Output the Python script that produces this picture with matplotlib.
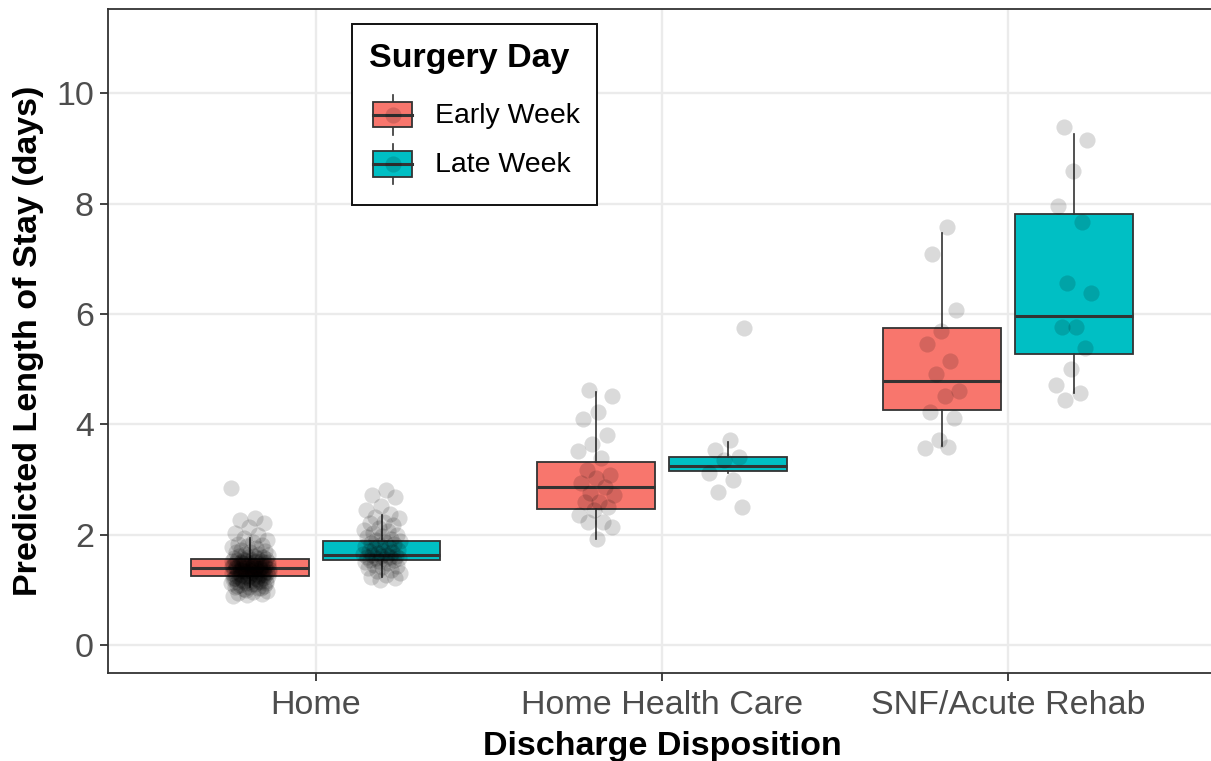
import numpy as np
import matplotlib
matplotlib.use("Agg")
import matplotlib.pyplot as plt
from matplotlib.patches import Rectangle
from matplotlib.lines import Line2D

plt.rcParams['font.family'] = ['Liberation Sans', 'DejaVu Sans']

# ---------------- data ----------------
categories = ['Home', 'Home Health Care', 'SNF/Acute Rehab']
groups = ['Early Week', 'Late Week']
colors = ['#F8766D', '#00BFC4']

# box statistics (per category)
early_med = [1.395, 2.87, 4.79]
early_q1 = [1.25, 2.46, 4.26]
early_q3 = [1.558, 3.32, 5.74]
early_lo = [1.05, 1.915, 3.605]
early_hi = [1.94, 4.59, 7.47]

late_med = [1.63, 3.25, 5.96]
late_q1 = [1.54, 3.15, 5.27]
late_q3 = [1.89, 3.40, 7.82]
late_lo = [1.24, 3.12, 4.56]
late_hi = [2.355, 3.68, 9.26]

# individual predicted values (jittered points)
home_early = [2.84, 2.31, 2.27, 2.21, 2.14, 2.03, 1.99, 1.94, 1.91, 1.87, 1.84, 1.82,
              1.79, 1.77, 1.76, 1.73, 1.71, 1.69, 1.68, 1.66, 1.65, 1.63, 1.62, 1.61,
              1.60, 1.59, 1.58, 1.57, 1.56, 1.56, 1.55, 1.54, 1.53, 1.53, 1.52, 1.51,
              1.50, 1.50, 1.49, 1.48, 1.47, 1.47, 1.46, 1.45, 1.45, 1.44, 1.43, 1.43,
              1.42, 1.41, 1.41, 1.40, 1.40, 1.39, 1.39, 1.38, 1.37, 1.37, 1.36, 1.36,
              1.35, 1.34, 1.34, 1.33, 1.32, 1.32, 1.31, 1.30, 1.30, 1.29, 1.28, 1.28,
              1.27, 1.26, 1.26, 1.25, 1.25, 1.24, 1.23, 1.22, 1.21, 1.20, 1.19, 1.18,
              1.17, 1.16, 1.15, 1.14, 1.13, 1.12, 1.10, 1.09, 1.07, 1.06, 1.05, 1.03,
              1.01, 0.99, 0.97, 0.95, 0.93, 0.91, 0.89,
              1.52, 1.48, 1.46, 1.44, 1.42, 1.38, 1.35, 1.33, 1.31, 1.29, 1.27, 1.24,
              1.22, 1.19, 1.16, 1.13, 1.11, 1.08, 1.04, 1.00, 1.43, 1.39, 1.36, 1.30,
              1.26, 1.21, 1.17, 1.55, 1.50, 1.41]
home_late = [2.81, 2.72, 2.69, 2.52, 2.45, 2.38, 2.33, 2.30, 2.24, 2.21, 2.17, 2.13,
             2.09, 2.06, 2.03, 2.00, 1.98, 1.96, 1.93, 1.91, 1.89, 1.87, 1.85, 1.83,
             1.81, 1.79, 1.77, 1.75, 1.73, 1.71, 1.70, 1.68, 1.67, 1.65, 1.64, 1.63,
             1.62, 1.61, 1.60, 1.59, 1.58, 1.57, 1.56, 1.55, 1.54, 1.52, 1.50, 1.48,
             1.46, 1.44, 1.42, 1.40, 1.37, 1.34, 1.31, 1.28, 1.24, 1.21, 1.18]
hhc_early = [4.63, 4.51, 4.23, 4.09, 3.80, 3.64, 3.51, 3.39, 3.17, 3.08, 3.02, 2.93,
             2.87, 2.75, 2.72, 2.60, 2.60, 2.51, 2.45, 2.36, 2.23, 2.23, 2.14, 1.93]
hhc_late = [5.74, 3.71, 3.53, 3.41, 3.35, 3.12, 2.99, 2.78, 2.51]
snf_early = [7.57, 7.08, 6.08, 5.69, 5.45, 5.15, 4.92, 4.60, 4.51, 4.23, 4.11, 3.71,
             3.58, 3.59]
snf_late = [9.39, 9.16, 8.59, 7.95, 7.67, 6.56, 6.38, 5.76, 5.76, 5.39, 5.01, 4.71,
            4.56, 4.45]

points = {
    (0, 0): home_early, (0, 1): home_late,
    (1, 0): hhc_early, (1, 1): hhc_late,
    (2, 0): snf_early, (2, 1): snf_late,
}

y_ticks = [0, 2, 4, 6, 8, 10]

# ---------------- figure ----------------
W, H = 1211, 761
fig = plt.figure(figsize=(W / 100, H / 100), dpi=100)
left_px, right_px, top_px, bot_px = 108.3, 1215.6, 9.3, 673.3
ax = fig.add_axes([left_px / W, 1 - bot_px / H, (right_px - left_px) / W,
                   (bot_px - top_px) / H])

ax.set_xlim(0.4, 3.6)
ax.set_ylim(-0.51, 11.52)

grid_c = '#EBEBEB'
for yt in y_ticks:
    ax.axhline(yt, color=grid_c, lw=1.7, zorder=0)
for xt in range(1, len(categories) + 1):
    ax.axvline(xt, color=grid_c, lw=1.7, zorder=0)

dodge = 0.19
bw = 0.34
edge = '#333333'

stats_sets = [
    (early_med, early_q1, early_q3, early_lo, early_hi),
    (late_med, late_q1, late_q3, late_lo, late_hi),
]
for g, (med, q1, q3, lo, hi) in enumerate(stats_sets):
    stats = []
    for i in range(len(categories)):
        stats.append(dict(med=med[i], q1=q1[i], q3=q3[i], whislo=lo[i], whishi=hi[i],
                          fliers=[]))
    pos = [i + 1 + (dodge if g == 1 else -dodge) for i in range(len(categories))]
    ax.bxp(stats, positions=pos, widths=bw, patch_artist=True, showfliers=False,
           showcaps=False,
           boxprops=dict(facecolor=colors[g], edgecolor=edge, linewidth=1.3),
           medianprops=dict(color=edge, linewidth=2.2, solid_capstyle='butt'),
           whiskerprops=dict(color=edge, linewidth=1.2),
           zorder=2, manage_ticks=False)

jit = 0.055
golden = 0.6180339887
for (i, g), vals in points.items():
    center = i + 1 + (dodge if g == 1 else -dodge)
    n = len(vals)
    offs = np.array([((k * golden + 0.31 * (i + 2 * g)) % 1.0) * 2 - 1 for k in range(n)])
    xs = center + jit * offs
    ax.scatter(xs, vals, s=135, color='black', alpha=0.145, linewidths=0, zorder=3)

ax.set_xticks(range(1, len(categories) + 1))
ax.set_xticklabels(categories)
ax.set_yticks(y_ticks)
ax.set_yticklabels([str(t) for t in y_ticks])
ax.tick_params(axis='both', length=6, width=1.3, color='#333333', labelcolor='#4D4D4D',
               labelsize=24.5)
ax.tick_params(axis='x', pad=6)
ax.tick_params(axis='y', pad=4.3)
for side in ['left', 'bottom', 'top', 'right']:
    ax.spines[side].set_color('#333333')
    ax.spines[side].set_linewidth(1.3)

# ---------------- overlay (titles + legend) in pixel coords ----------------
ov = fig.add_axes([0, 0, 1, 1])
ov.set_xlim(0, W)
ov.set_ylim(H, 0)
ov.axis('off')
ov.patch.set_alpha(0)

ov.text(662.5, 755, 'Discharge Disposition', ha='center', va='baseline',
        fontsize=24.5, fontweight='bold', color='black')
ov.text(29, 341, 'Predicted Length of Stay (days)', ha='center', va='center',
        rotation=90, fontsize=24.5, fontweight='bold', color='black')

ov.add_patch(Rectangle((352, 24), 245, 181, facecolor='white', edgecolor='#111111',
                       linewidth=1.4, zorder=5))
ov.text(369, 59, 'Surgery Day', ha='left', va='center', fontsize=24.5,
        fontweight='bold', color='black', zorder=6)
key_cy = [114.5, 164]
for g, cy in enumerate(key_cy):
    ov.add_line(Line2D([392.5, 392.5], [cy - 20, cy + 20], color=edge, lw=1.2, zorder=6))
    ov.add_patch(Rectangle((373, cy - 12.8), 39, 25.6, facecolor=colors[g],
                           edgecolor=edge, linewidth=1.3, zorder=7))
    ov.add_line(Line2D([373, 412], [cy, cy], color=edge, lw=2.2, zorder=8))
    ov.scatter([392.5], [cy], s=135, color='black', alpha=0.145, linewidths=0, zorder=9)
    ov.text(435, cy + 1.5, groups[g], ha='left', va='center', fontsize=20.5,
            color='black', zorder=9)

fig.savefig('out.png', dpi=100)
